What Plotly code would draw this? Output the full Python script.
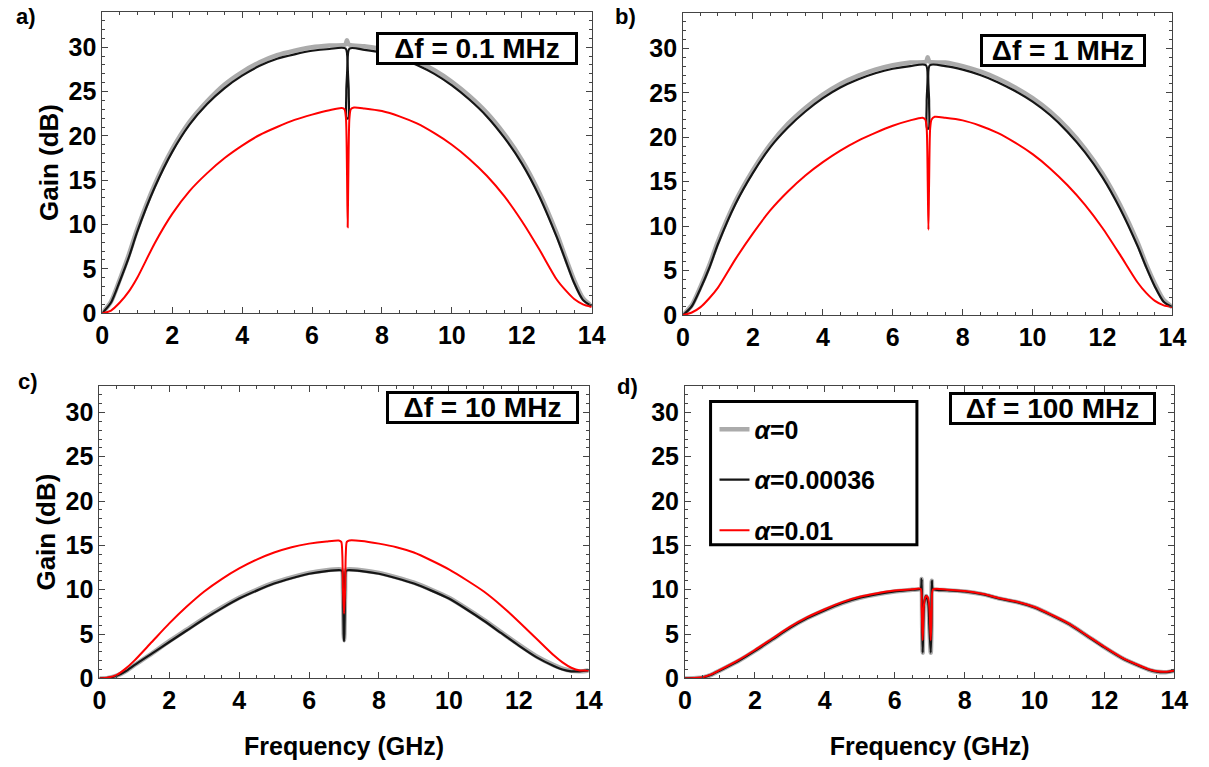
import plotly.graph_objects as go

# ---------------- data ----------------
# Panel a: delta f = 0.1 MHz
fa_gray = [0, 0.25, 0.5, 0.75, 1, 1.5, 2, 2.5, 3, 3.5, 4, 4.5, 5, 5.5, 6, 6.5, 6.95, 7.0, 7.05,
           7.5, 8, 8.5, 9, 9.5, 10, 10.5, 11, 11.5, 12, 12.5, 13, 13.25, 13.5, 13.75, 14]
ga_gray = [0, 1.3, 3.8, 6.5, 9.5, 14.5, 18.5, 21.6, 23.9, 25.8, 27.2, 28.3, 29.1, 29.6, 30.0, 30.2, 30.3, 30.8, 30.3,
           30.1, 29.8, 29.2, 28.4, 27.4, 26.1, 24.5, 22.6, 20.2, 17.3, 13.6, 9.0, 6.3, 3.7, 1.7, 0.8]
fa_black = [0, 0.25, 0.5, 0.75, 1, 1.5, 2, 2.5, 3, 3.5, 4, 4.5, 5, 5.5, 6, 6.5, 6.96, 6.98, 6.99, 7.04, 7.05, 7.07,
            7.5, 8, 8.5, 9, 9.5, 10, 10.5, 11, 11.5, 12, 12.5, 13, 13.25, 13.5, 13.75, 14]
ga_black = [0, 1.2, 3.6, 6.2, 9.2, 14.2, 18.2, 21.3, 23.6, 25.4, 26.8, 27.9, 28.7, 29.2, 29.6, 29.8, 29.85, 25.0, 22.0, 22.0, 25.0, 29.85,
            29.7, 29.4, 28.8, 28.0, 27.0, 25.7, 24.1, 22.2, 19.8, 16.9, 13.2, 8.6, 6.0, 3.4, 1.5, 0.8]
fa_red = [0, 0.25, 0.5, 0.75, 1, 1.5, 2, 2.5, 3, 3.5, 4, 4.5, 5, 5.5, 6, 6.5, 6.85, 6.93, 6.97, 7.0, 7.02, 7.04,
          7.07, 7.11, 7.2, 7.5, 8, 8.5, 9, 9.5, 10, 10.5, 11, 11.5, 12, 12.5, 13, 13.25, 13.5, 13.75, 14]
ga_red = [0, 0.3, 1.2, 2.4, 4.0, 7.9, 11.2, 13.8, 15.8, 17.5, 18.9, 20.1, 21.0, 21.8, 22.4, 22.9, 23.15, 23.0, 22.0, 16.0, 9.7, 16.0,
          22.0, 23.0, 23.2, 23.1, 22.8, 22.2, 21.4, 20.3, 19.0, 17.4, 15.5, 13.2, 10.4, 7.2, 3.8, 2.6, 1.6, 1.0, 0.7]

# Panel b: delta f = 1 MHz
fb_gray = [0, 0.25, 0.5, 0.75, 1, 1.5, 2, 2.5, 3, 3.5, 4, 4.5, 5, 5.5, 6, 6.5, 6.95, 7.0, 7.05,
           7.5, 8, 8.5, 9, 9.5, 10, 10.5, 11, 11.5, 12, 12.5, 13, 13.25, 13.5, 13.75, 14]
gb_gray = [0, 1.1, 3.2, 5.6, 8.3, 12.8, 16.3, 19.2, 21.5, 23.3, 24.8, 26.0, 26.9, 27.6, 28.1, 28.4, 28.5, 29.0, 28.5,
           28.4, 28.0, 27.4, 26.6, 25.6, 24.4, 22.9, 21.0, 18.7, 15.9, 12.4, 8.2, 5.7, 3.5, 1.7, 0.9]
fb_black = [0, 0.25, 0.5, 0.75, 1, 1.5, 2, 2.5, 3, 3.5, 4, 4.5, 5, 5.5, 6, 6.5, 6.95, 6.97, 6.98, 7.03, 7.04, 7.06,
            7.5, 8, 8.5, 9, 9.5, 10, 10.5, 11, 11.5, 12, 12.5, 13, 13.25, 13.5, 13.75, 14]
gb_black = [0, 1.0, 3.0, 5.3, 8.0, 12.5, 16.0, 18.9, 21.1, 22.9, 24.4, 25.6, 26.5, 27.2, 27.7, 28.0, 28.1, 24.0, 21.0, 21.0, 24.0, 28.1,
            28.0, 27.6, 27.0, 26.2, 25.2, 24.0, 22.5, 20.6, 18.3, 15.5, 12.0, 7.8, 5.4, 3.2, 1.5, 0.9]
fb_red = [0, 0.25, 0.5, 0.75, 1, 1.5, 2, 2.5, 3, 3.5, 4, 4.5, 5, 5.5, 6, 6.5, 6.85, 6.93, 6.97, 7.0, 7.02, 7.04,
          7.07, 7.11, 7.2, 7.5, 8, 8.5, 9, 9.5, 10, 10.5, 11, 11.5, 12, 12.5, 13, 13.25, 13.5, 13.75, 14]
gb_red = [0, 0.3, 0.9, 1.9, 3.1, 6.3, 9.2, 11.8, 13.9, 15.7, 17.2, 18.5, 19.6, 20.5, 21.3, 21.9, 22.2, 22.0, 21.0, 15.0, 9.6, 15.0,
          21.0, 22.0, 22.3, 22.2, 21.9, 21.3, 20.5, 19.4, 18.1, 16.5, 14.6, 12.4, 9.8, 6.8, 3.7, 2.5, 1.6, 1.1, 0.9]

# Panel c: delta f = 10 MHz
fc_gray = [0, 0.25, 0.5, 0.75, 1, 1.5, 2, 2.5, 3, 3.5, 4, 4.5, 5, 5.5, 6, 6.5, 6.9, 6.95, 6.97, 6.99, 7.0, 7.01, 7.03, 7.05,
           7.1, 7.5, 8, 8.5, 9, 9.5, 10, 10.5, 11, 11.5, 12, 12.5, 13, 13.25, 13.5, 13.75, 14]
gc_gray = [0, 0.05, 0.3, 0.8, 1.5, 2.8, 4.2, 5.5, 6.8, 8.0, 9.1, 10.0, 10.8, 11.4, 11.9, 12.2, 12.3, 12.2, 10.0, 5.0, 4.3, 5.0, 10.0, 12.2,
           12.3, 12.2, 11.9, 11.4, 10.8, 10.0, 9.1, 7.9, 6.6, 5.2, 3.8, 2.5, 1.5, 1.1, 0.85, 0.8, 0.9]
fc_black = [0, 0.25, 0.5, 0.75, 1, 1.5, 2, 2.5, 3, 3.5, 4, 4.5, 5, 5.5, 6, 6.5, 6.9, 6.95, 6.97, 6.99, 7.0, 7.01, 7.03, 7.05,
            7.1, 7.5, 8, 8.5, 9, 9.5, 10, 10.5, 11, 11.5, 12, 12.5, 13, 13.25, 13.5, 13.75, 14]
gc_black = [0, 0.05, 0.3, 0.8, 1.5, 2.8, 4.1, 5.4, 6.7, 7.9, 9.0, 9.9, 10.7, 11.3, 11.8, 12.1, 12.2, 12.1, 10.0, 5.0, 4.2, 5.0, 10.0, 12.1,
            12.2, 12.1, 11.8, 11.3, 10.7, 9.9, 9.0, 7.8, 6.5, 5.1, 3.7, 2.4, 1.4, 1.0, 0.8, 0.8, 0.9]
fc_red = [0, 0.25, 0.5, 0.75, 1, 1.5, 2, 2.5, 3, 3.5, 4, 4.5, 5, 5.5, 6, 6.5, 6.85, 6.92, 6.95, 6.97, 7.0, 7.03, 7.05,
          7.08, 7.15, 7.5, 8, 8.5, 9, 9.5, 10, 10.5, 11, 11.5, 12, 12.5, 13, 13.25, 13.5, 13.75, 14]
gc_red = [0, 0.1, 0.4, 1.1, 2.0, 4.1, 6.2, 8.1, 9.8, 11.2, 12.4, 13.4, 14.2, 14.8, 15.2, 15.45, 15.55, 15.4, 14.0, 10.0, 7.3, 10.0, 14.0,
          15.4, 15.55, 15.5, 15.2, 14.8, 14.2, 13.3, 12.3, 11.1, 9.8, 8.2, 6.4, 4.5, 2.6, 1.8, 1.2, 0.9, 0.9]

# Panel d: delta f = 100 MHz
fd_gray = [0, 0.25, 0.5, 0.75, 1, 1.5, 2, 2.5, 3, 3.5, 4, 4.5, 5, 5.5, 6, 6.5, 6.74, 6.77, 6.785, 6.8, 6.815, 6.84, 6.9,
           6.96, 6.99, 7.03, 7.05, 7.06, 7.09, 7.5, 8, 8.5, 9, 9.5, 10, 10.5, 11, 11.5, 12, 12.5, 13, 13.25, 13.5, 13.75, 14]
gd_gray = [0, 0.02, 0.1, 0.4, 0.9, 1.9, 3.1, 4.4, 5.7, 6.8, 7.7, 8.5, 9.1, 9.5, 9.8, 10.0, 10.1, 11.2, 6.0, 2.9, 6.0, 8.5, 9.3,
           8.5, 6.0, 2.9, 6.0, 11.0, 10.1, 9.95, 9.8, 9.5, 9.0, 8.6, 8.0, 7.1, 6.1, 4.8, 3.5, 2.3, 1.4, 1.0, 0.75, 0.7, 0.85]
fd_black = [0, 0.25, 0.5, 0.75, 1, 1.5, 2, 2.5, 3, 3.5, 4, 4.5, 5, 5.5, 6, 6.5, 6.74, 6.77, 6.785, 6.8, 6.815, 6.84, 6.9,
            6.96, 6.99, 7.03, 7.05, 7.06, 7.09, 7.5, 8, 8.5, 9, 9.5, 10, 10.5, 11, 11.5, 12, 12.5, 13, 13.25, 13.5, 13.75, 14]
gd_black = [0, 0.02, 0.1, 0.4, 0.9, 1.9, 3.1, 4.4, 5.7, 6.8, 7.7, 8.5, 9.1, 9.5, 9.8, 10.0, 10.1, 11.2, 6.0, 2.9, 6.0, 8.5, 9.3,
            8.5, 6.0, 2.9, 6.0, 11.0, 10.1, 9.95, 9.8, 9.5, 9.0, 8.6, 8.0, 7.1, 6.1, 4.8, 3.5, 2.3, 1.4, 1.0, 0.75, 0.7, 0.85]
fd_red = [0, 0.25, 0.5, 0.75, 1, 1.5, 2, 2.5, 3, 3.5, 4, 4.5, 5, 5.5, 6, 6.5, 6.74, 6.77, 6.8, 6.83, 6.87, 6.91,
          6.95, 6.99, 7.03, 7.06, 7.1, 7.5, 8, 8.5, 9, 9.5, 10, 10.5, 11, 11.5, 12, 12.5, 13, 13.25, 13.5, 13.75, 14]
gd_red = [0, 0.03, 0.12, 0.45, 0.95, 2.0, 3.2, 4.5, 5.8, 6.9, 7.8, 8.6, 9.2, 9.6, 9.9, 10.05, 10.1, 8.0, 4.3, 8.0, 9.1, 9.3,
          9.1, 8.0, 4.3, 8.0, 10.05, 10.0, 9.85, 9.55, 9.05, 8.65, 8.05, 7.15, 6.15, 4.85, 3.55, 2.35, 1.45, 1.05, 0.8, 0.75, 0.9]

panel_letters = ["a)", "b)", "c)", "d)"]
delta_labels = ["\u0394f = 0.1 MHz", "\u0394f = 1 MHz", "\u0394f = 10 MHz", "\u0394f = 100 MHz"]
series_names = ["<i>\u03b1</i>=0", "<i>\u03b1</i>=0.00036", "<i>\u03b1</i>=0.01"]
x_label = "Frequency (GHz)"
y_label = "Gain (dB)"
x_ticks = [0, 2, 4, 6, 8, 10, 12, 14]
y_ticks = [0, 5, 10, 15, 20, 25, 30]

panels = [
    [(fa_gray, ga_gray), (fa_black, ga_black), (fa_red, ga_red)],
    [(fb_gray, gb_gray), (fb_black, gb_black), (fb_red, gb_red)],
    [(fc_gray, gc_gray), (fc_black, gc_black), (fc_red, gc_red)],
    [(fd_gray, gd_gray), (fd_black, gd_black), (fd_red, gd_red)],
]

# ---------------- layout geometry (pixels in a 1209 x 767 canvas) ----------------
W, H = 1209, 767
boxes = [  # left, right, top, bottom, ymax
    (97, 595, 12, 319, 34),
    (688, 1186, 13, 321, 34),
    (94, 592, 393, 691, 33),
    (690, 1188, 393, 691, 33),
]

FONT = "Liberation Sans, Arial, sans-serif"
styles = [
    dict(color="rgba(135,135,135,0.7)", width=4.5, shape="spline", smoothing=0.7),
    dict(color="#151515", width=2.2, shape="spline", smoothing=0.7),
    dict(color="#ff0000", width=2, shape="spline", smoothing=0.7),
]

fig = go.Figure()
for i, series in enumerate(panels):
    xa = "x" if i == 0 else f"x{i+1}"
    ya = "y" if i == 0 else f"y{i+1}"
    for j, (fx, gy) in enumerate(series):
        fig.add_trace(go.Scatter(
            x=fx, y=gy, mode="lines", xaxis=xa, yaxis=ya,
            line=styles[j], name=series_names[j],
            showlegend=(i == 3), legendgroup=f"g{j}",
        ))

for i, (l, r, t, b, ymax) in enumerate(boxes):
    sx = "" if i == 0 else str(i + 1)
    common = dict(showline=True, mirror="ticks", linecolor="#444", linewidth=1,
                  ticks="inside", ticklen=6, tickcolor="#444", tickwidth=1,
                  showgrid=False, zeroline=False,
                  tickfont=dict(family=FONT, size=25, color="black", weight="bold"))
    fig.layout[f"xaxis{sx}"] = dict(
        common, domain=[l / W, r / W], range=[0, 14], anchor=f"y{sx}",
        tickvals=x_ticks, minor=dict(ticks="inside", dtick=0.5, ticklen=3, tickcolor="#444", showgrid=False),
        title=dict(text=x_label if i >= 2 else "", font=dict(family=FONT, size=25, color="black", weight="bold"),
                   standoff=24),
    )
    fig.layout[f"yaxis{sx}"] = dict(
        common, domain=[1 - b / H, 1 - t / H], range=[0, ymax], anchor=f"x{sx}",
        tickvals=y_ticks, minor=dict(ticks="inside", dtick=1, ticklen=3, tickcolor="#444", showgrid=False),
        title=dict(text=y_label if i in (0, 2) else "", font=dict(family=FONT, size=26, color="black", weight="bold"),
                   standoff=2),
    )

annotations = []
letter_pos = [(19, 17), (629, 17), (21, 389), (631, 394)]
for (px, py), txt in zip(letter_pos, panel_letters):
    annotations.append(dict(x=px / W, y=1 - py / H, xref="paper", yref="paper", text=txt, showarrow=False,
                            xanchor="center", yanchor="middle",
                            font=dict(family=FONT, size=22, color="black", weight="bold")))
delta_pos = [(478, 49), (1075, 51), (484, 415), (1064, 416)]
delta_w = [196, 160, 187, 201]
for (px, py), txt, wd in zip(delta_pos, delta_labels, delta_w):
    annotations.append(dict(x=px / W, y=1 - py / H, xref="paper", yref="paper", text=txt, showarrow=False,
                            xanchor="center", yanchor="middle", width=wd, height=27,
                            font=dict(family=FONT, size=28, color="black", weight="bold"),
                            bgcolor="white", bordercolor="black", borderwidth=3, borderpad=0))

fig.update_layout(
    width=W, height=H, margin=dict(l=0, r=0, t=0, b=0),
    paper_bgcolor="white", plot_bgcolor="white",
    annotations=annotations,
    showlegend=True,
    legend=dict(x=720 / W, y=1 - 414 / H, xanchor="left", yanchor="top",
                bgcolor="rgba(0,0,0,0)", borderwidth=0, tracegroupgap=15,
                font=dict(family=FONT, size=25, color="black", weight="bold")),
    shapes=[dict(type="rect", xref="paper", yref="paper", x0=716 / W, x1=926 / W,
                 y0=1 - 555 / H, y1=1 - 409 / H, line=dict(color="black", width=3))],
)

fig.write_html("out.html")
